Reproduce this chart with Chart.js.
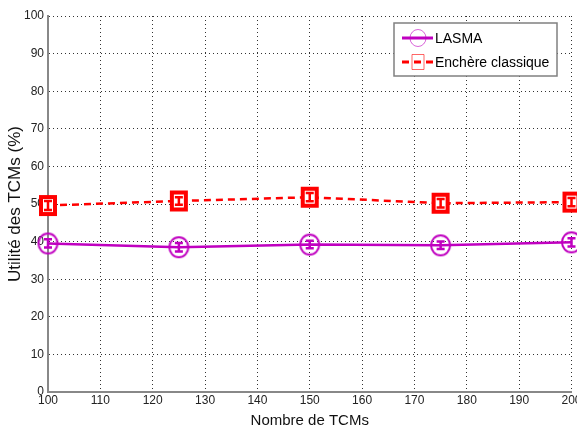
<!DOCTYPE html>
<html>
<head>
<meta charset="utf-8">
<script src="https://cdn.jsdelivr.net/npm/chart.js@4/dist/chart.umd.min.js"></script>
<style>
  html, body { margin: 0; padding: 0; background: #fff; overflow: hidden; }
  #wrap { width: 577px; height: 428px; overflow: hidden; }
</style>
</head>
<body>
<div id="wrap"><canvas id="c" width="584" height="428"></canvas></div>
<script>
const tcms = [100, 125, 150, 175, 200];
const lasma = [39.5, 38.5, 39.2, 39.0, 39.8];
const lasmaErr = [1.1, 1.1, 1.0, 1.0, 1.1];
const enchere = [49.6, 50.8, 51.8, 50.2, 50.5];
const enchereErr = [1.2, 1.0, 1.1, 1.1, 1.1];

const purple = "#c000c0";
const red = "#ff0000";
const font = "'Liberation Sans', Arial, sans-serif";

// MATLAB markers are a bit taller than wide, so draw them as small canvases
function marker(kind, w, h, lw, color) {
  const c = document.createElement("canvas");
  c.width = w + lw + 2; c.height = h + lw + 2;
  const g = c.getContext("2d");
  g.strokeStyle = color;
  g.lineWidth = lw;
  g.fillStyle = "#fff";
  g.beginPath();
  if (kind === "circle") g.ellipse(c.width / 2, c.height / 2, w / 2, h / 2, 0, 0, Math.PI * 2);
  else { g.rect((c.width - w) / 2, (c.height - h) / 2, w, h); g.fill(); }
  g.stroke();
  return c;
}

const circleMark = marker("circle", 19, 20, 2, purple);
const squareMark = marker("rect", 14, 17, 4, red);

// error bars drawn on top of each point
const errorBars = {
  id: "errorBars",
  afterDatasetsDraw(chart) {
    const ctx = chart.ctx;
    const y = chart.scales.y;
    chart.data.datasets.forEach((ds, i) => {
      const meta = chart.getDatasetMeta(i);
      ctx.save();
      ctx.strokeStyle = ds.borderColor;
      ctx.lineWidth = 2.5;
      meta.data.forEach((pt, j) => {
        const v = ds.data[j].y, e = ds.err[j];
        const y1 = y.getPixelForValue(v - e), y2 = y.getPixelForValue(v + e);
        ctx.beginPath();
        ctx.moveTo(pt.x, y1); ctx.lineTo(pt.x, y2);
        ctx.moveTo(pt.x - 4, y1); ctx.lineTo(pt.x + 4, y1);
        ctx.moveTo(pt.x - 4, y2); ctx.lineTo(pt.x + 4, y2);
        ctx.stroke();
      });
      ctx.restore();
    });
  }
};

// MATLAB style legend box in the upper right
const boxLegend = {
  id: "boxLegend",
  afterDraw(chart) {
    const ctx = chart.ctx;
    const x0 = 394, y0 = 23, w = 163, h = 53;
    ctx.save();
    ctx.fillStyle = "#fff";
    ctx.fillRect(x0, y0, w, h);
    ctx.strokeStyle = "#808080";
    ctx.lineWidth = 1.5;
    ctx.strokeRect(x0, y0, w, h);
    ctx.font = "14px " + font;
    ctx.textBaseline = "middle";
    chart.data.datasets.forEach((ds, i) => {
      const cy = y0 + 15 + i * 24;
      ctx.strokeStyle = ds.borderColor;
      ctx.lineWidth = 3;
      ctx.setLineDash(ds.borderDash || []);
      ctx.beginPath();
      ctx.moveTo(x0 + 8, cy); ctx.lineTo(x0 + 39, cy);
      ctx.stroke();
      ctx.setLineDash([]);
      ctx.lineWidth = 1;
      ctx.globalAlpha = 0.6;
      ctx.beginPath();
      if (i === 0) ctx.ellipse(x0 + 24, cy, 8, 8.5, 0, 0, Math.PI * 2);
      else ctx.rect(x0 + 18, cy - 7.5, 12, 15);
      ctx.stroke();
      ctx.globalAlpha = 1;
      ctx.fillStyle = "#000";
      ctx.fillText(ds.label, x0 + 41, cy + 1);
    });
    ctx.restore();
  }
};

const grid = { color: "#333", drawTicks: false, lineWidth: 1 };
const border = { color: "#888", width: 2, dash: [1, 3] };

new Chart(document.getElementById("c"), {
  type: "line",
  data: {
    datasets: [
      {
        label: "LASMA",
        data: tcms.map((x, i) => ({ x: x, y: lasma[i] })),
        err: lasmaErr,
        borderColor: purple,
        backgroundColor: "rgba(0,0,0,0)",
        borderWidth: 2.5,
        pointStyle: circleMark,
        pointRadius: 10,
        clip: false,
        tension: 0
      },
      {
        label: "Enchère classique",
        data: tcms.map((x, i) => ({ x: x, y: enchere[i] })),
        err: enchereErr,
        borderColor: red,
        backgroundColor: "rgba(0,0,0,0)",
        borderWidth: 2.5,
        borderDash: [7, 5],
        pointStyle: squareMark,
        pointRadius: 10,
        clip: false,
        tension: 0
      }
    ]
  },
  options: {
    responsive: false,
    animation: false,
    layout: { padding: { top: 16, right: 0, left: 0, bottom: 0 } },
    plugins: { legend: { display: false }, tooltip: { enabled: false } },
    scales: {
      x: {
        type: "linear",
        min: 100, max: 200,
        ticks: { stepSize: 10, color: "#222", font: { family: font, size: 12 }, padding: 1, maxRotation: 0 },
        grid: grid,
        border: border,
        title: { display: true, text: "Nombre de TCMs", color: "#111", font: { family: font, size: 15 }, padding: { top: 0, bottom: -2 } },
        afterFit(s) { s.height = 36; }
      },
      y: {
        min: 0, max: 100,
        ticks: { stepSize: 10, color: "#222", font: { family: font, size: 12 }, padding: 4 },
        grid: grid,
        border: border,
        title: { display: true, text: "Utilité des TCMs (%)", color: "#111", font: { family: font, size: 17 }, padding: { top: 5, bottom: 0 } },
        afterFit(s) { s.width = 48; }
      }
    }
  },
  plugins: [errorBars, boxLegend]
});
</script>
</body>
</html>
